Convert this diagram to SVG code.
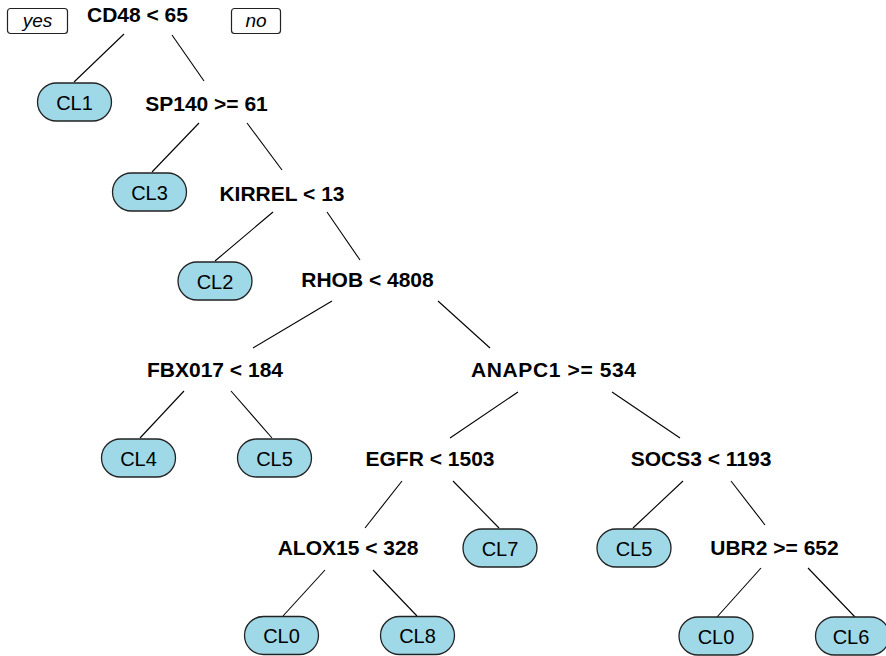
<svg xmlns="http://www.w3.org/2000/svg" width="886" height="656" viewBox="0 0 886 656">
  <style>
    .split { font-family: "Liberation Sans", Arial, sans-serif; font-weight: bold; font-size: 21px; text-anchor: middle; fill: #000; }
    .leaf rect { fill: #9fd9e7; stroke: #222; stroke-width: 1.3; }
    .leaf text { font-family: "Liberation Sans", Arial, sans-serif; font-size: 20px; text-anchor: middle; fill: #000; }
    .tag rect { fill: #fff; stroke: #222; stroke-width: 1.2; }
    .tag text { font-family: "Liberation Sans", Arial, sans-serif; font-style: italic; font-size: 19px; text-anchor: middle; fill: #000; }
    #edges line { stroke: #000; stroke-width: 1.1; }
  </style>
  <rect width="886" height="656" fill="#fff"/>

  <!-- branches -->
  <g id="edges">
    <line x1="124" y1="34" x2="74" y2="82"/>
    <line x1="172" y1="35" x2="204" y2="81"/>
    <line x1="199" y1="123" x2="152" y2="172"/>
    <line x1="247" y1="123" x2="282" y2="170"/>
    <line x1="273" y1="212" x2="215" y2="261"/>
    <line x1="327" y1="212" x2="360" y2="260"/>
    <line x1="332" y1="301" x2="253" y2="348"/>
    <line x1="438" y1="301" x2="490" y2="348"/>
    <line x1="184" y1="391" x2="140" y2="438"/>
    <line x1="231" y1="391" x2="272" y2="438"/>
    <line x1="518" y1="392" x2="450" y2="438"/>
    <line x1="612" y1="392" x2="680" y2="438"/>
    <line x1="402" y1="481" x2="365" y2="528"/>
    <line x1="453" y1="481" x2="499" y2="528"/>
    <line x1="683" y1="481" x2="633" y2="528"/>
    <line x1="731" y1="481" x2="765" y2="525"/>
    <line x1="325" y1="570" x2="283" y2="616"/>
    <line x1="373" y1="570" x2="417" y2="616"/>
    <line x1="761" y1="568" x2="717" y2="617"/>
    <line x1="808" y1="568" x2="855" y2="617"/>
  </g>

  <!-- branch direction tags -->
  <g id="tag-yes" class="tag"><rect x="7.5" y="8.5" width="60" height="25" rx="3"/><text x="37.5" y="27">yes</text></g>
  <g id="tag-no" class="tag"><rect x="231.5" y="8.5" width="49" height="25" rx="3"/><text x="256" y="27">no</text></g>

  <!-- split nodes -->
  <g id="n-cd48"><text class="split" x="137.5" y="22">CD48 &lt; 65</text></g>
  <g id="n-sp140"><text class="split" x="206.5" y="111">SP140 &gt;= 61</text></g>
  <g id="n-kirrel"><text class="split" x="282" y="201">KIRREL &lt; 13</text></g>
  <g id="n-rhob"><text class="split" x="367.5" y="287">RHOB &lt; 4808</text></g>
  <g id="n-fbx017"><text class="split" x="215" y="377">FBX017 &lt; 184</text></g>
  <g id="n-anapc1"><text class="split" x="553.5" y="377" textLength="165">ANAPC1 &gt;= 534</text></g>
  <g id="n-egfr"><text class="split" x="430" y="466">EGFR &lt; 1503</text></g>
  <g id="n-socs3"><text class="split" x="701" y="466">SOCS3 &lt; 1193</text></g>
  <g id="n-alox15"><text class="split" x="348" y="555">ALOX15 &lt; 328</text></g>
  <g id="n-ubr2"><text class="split" x="774.5" y="555">UBR2 &gt;= 652</text></g>

  <!-- leaf nodes -->
  <g id="leaf-cl1" class="leaf"><rect x="37.5" y="83" width="74" height="38" rx="19"/><text x="74.5" y="109.5">CL1</text></g>
  <g id="leaf-cl3" class="leaf"><rect x="112.5" y="173" width="74" height="38" rx="19"/><text x="149.5" y="199.5">CL3</text></g>
  <g id="leaf-cl2" class="leaf"><rect x="178" y="262" width="74" height="38" rx="19"/><text x="215" y="288.5">CL2</text></g>
  <g id="leaf-cl4" class="leaf"><rect x="101.5" y="439" width="74" height="38" rx="19"/><text x="138.5" y="465.5">CL4</text></g>
  <g id="leaf-cl5a" class="leaf"><rect x="237.5" y="439" width="74" height="38" rx="19"/><text x="274.5" y="465.5">CL5</text></g>
  <g id="leaf-cl7" class="leaf"><rect x="463" y="529" width="74" height="38" rx="19"/><text x="500" y="555.5">CL7</text></g>
  <g id="leaf-cl5b" class="leaf"><rect x="597" y="529" width="74" height="38" rx="19"/><text x="634" y="555.5">CL5</text></g>
  <g id="leaf-cl0a" class="leaf"><rect x="244.5" y="616.5" width="74" height="38" rx="19"/><text x="281.5" y="643">CL0</text></g>
  <g id="leaf-cl8" class="leaf"><rect x="380.5" y="616.5" width="74" height="38" rx="19"/><text x="417.5" y="643">CL8</text></g>
  <g id="leaf-cl0b" class="leaf"><rect x="679" y="617" width="74" height="38" rx="19"/><text x="716" y="643.5">CL0</text></g>
  <g id="leaf-cl6" class="leaf"><rect x="815.5" y="617" width="74" height="38" rx="19"/><text x="851" y="643.5">CL6</text></g>
</svg>
